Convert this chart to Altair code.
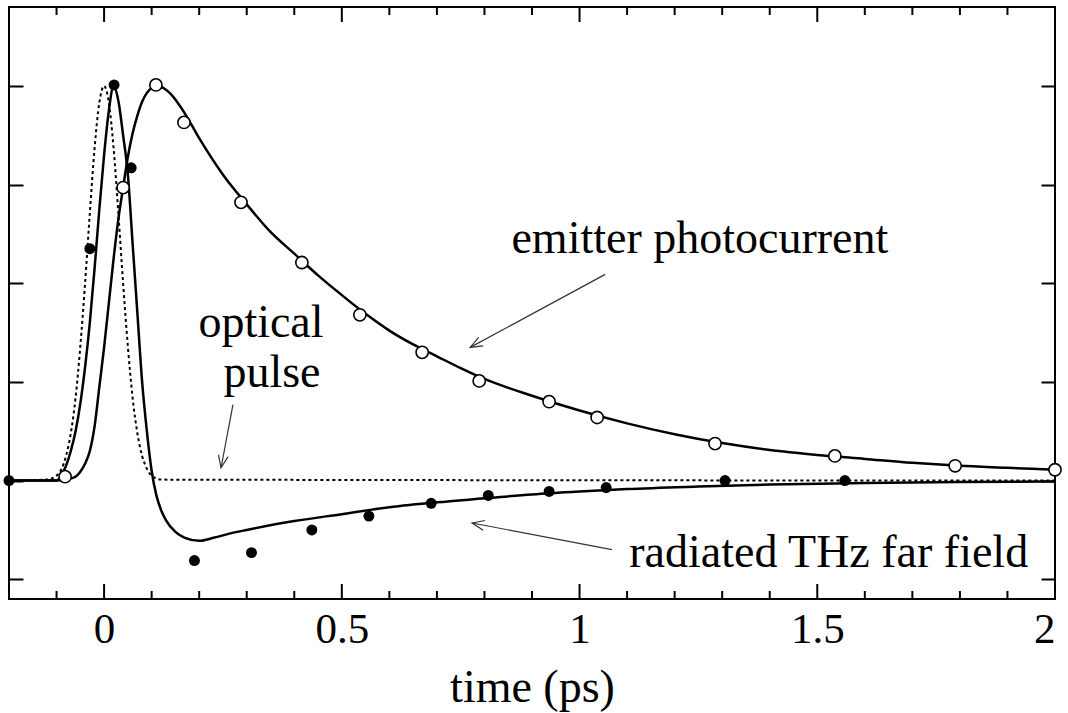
import math
import altair as alt
import pandas as pd

# ---------------- data ----------------
opt_t = [-0.2, -0.12, -0.1, -0.08, -0.07, -0.06, -0.05, -0.04, -0.03, -0.02, -0.01, 0.0,
         0.01, 0.02, 0.03, 0.04, 0.05, 0.06, 0.07, 0.08, 0.09, 0.1, 0.12, 2.0]
opt_v = [0.0, 0.01, 0.05, 0.25, 0.48, 0.84, 1.36, 2.0, 2.71, 3.37, 3.83, 4.0,
         3.83, 3.37, 2.71, 2.0, 1.36, 0.84, 0.48, 0.25, 0.12, 0.05, 0.01, 0.0]

pc_t = [-0.2, -0.1, -0.08, -0.06, -0.05, -0.04, -0.03, -0.02, -0.01, 0.0, 0.01, 0.02, 0.03,
        0.04, 0.05, 0.06, 0.07, 0.08, 0.09, 0.1, 0.11, 0.12, 0.14, 0.17, 0.2, 0.25, 0.3,
        0.35, 0.4, 0.45, 0.5, 0.55, 0.6, 0.65, 0.7, 0.75, 0.8, 0.9, 1.0, 1.1, 1.2, 1.3,
        1.4, 1.5, 1.6, 1.7, 1.8, 1.9, 2.0]
pc_v = [0.0, 0.0, 0.01, 0.04, 0.09, 0.17, 0.3, 0.55, 0.95, 1.35, 1.8, 2.25, 2.65,
        2.97, 3.28, 3.52, 3.7, 3.84, 3.93, 3.98, 4.0, 3.99, 3.92, 3.72, 3.47, 3.1, 2.8,
        2.52, 2.3, 2.08, 1.88, 1.69, 1.52, 1.38, 1.26, 1.14, 1.03, 0.86, 0.71, 0.58, 0.47, 0.38,
        0.31, 0.26, 0.22, 0.18, 0.15, 0.13, 0.11]

thz_t = [-0.2, -0.1, -0.09, -0.08, -0.07, -0.06, -0.05, -0.04, -0.03, -0.02, -0.01, 0.0,
         0.01, 0.02, 0.03, 0.04, 0.05, 0.06, 0.07, 0.08, 0.09, 0.1, 0.11, 0.12, 0.13,
         0.15, 0.17, 0.2, 0.23, 0.27, 0.3, 0.4, 0.5, 0.6, 0.7, 0.8, 0.9, 1.0, 1.1, 1.25,
         1.4, 1.6, 1.8, 2.0]
thz_v = [0.0, 0.0, 0.05, 0.15, 0.3, 0.5, 0.78, 1.15, 1.6, 2.15, 2.75, 3.3,
         3.75, 4.0, 3.85, 3.5, 3.1, 2.4, 1.7, 1.0, 0.5, 0.1, -0.15, -0.3, -0.4,
         -0.52, -0.58, -0.61, -0.58, -0.53, -0.5, -0.41, -0.34, -0.27, -0.22, -0.18, -0.14,
         -0.11, -0.085, -0.06, -0.04, -0.025, -0.015, -0.01]

op_t = [-0.082, 0.04, 0.109, 0.168, 0.288, 0.416, 0.538, 0.669, 0.789, 0.936, 1.037,
        1.285, 1.537, 1.79, 2.0]
op_v = [0.04, 2.97, 4.01, 3.63, 2.82, 2.21, 1.68, 1.30, 1.01, 0.80, 0.64,
        0.375, 0.25, 0.15, 0.11]

fp_t = [-0.2, -0.03, 0.021, 0.057, 0.19, 0.31, 0.437, 0.557, 0.688, 0.808, 0.936,
        1.056, 1.306, 1.558]
fp_v = [0.0, 2.35, 4.01, 3.17, -0.81, -0.73, -0.50, -0.36, -0.23, -0.15, -0.11,
        -0.07, 0.0, 0.0]

lab_text = ["emitter photocurrent", "optical", "pulse", "radiated THz far field"]
lab_x = [1.253, 0.330, 0.353, 1.524]
lab_y = [2.31, 1.46, 0.95, -0.88]

arr_x1 = [1.054, 0.271, 1.068]
arr_y1 = [2.09, 0.77, -0.70]
arr_x2 = [0.770, 0.246, 0.774]
arr_y2 = [1.35, 0.13, -0.43]

x_major = [0, 0.5, 1, 1.5, 2]
x_minor = [-0.1, 0.1, 0.2, 0.3, 0.4, 0.6, 0.7, 0.8, 0.9, 1.1, 1.2, 1.3, 1.4,
           1.6, 1.7, 1.8, 1.9]
y_ticks = [-1, 0, 1, 2, 3, 4]

# ---------------- chart ----------------
W, H = 1046, 592
X_DOM = [-0.2, 2.0]
Y_DOM = [-1.2, 4.8]
FONT = "Liberation Serif"
MAJ, MIN = 15, 8

xs = alt.Scale(domain=X_DOM, nice=False, zero=False)
ys = alt.Scale(domain=Y_DOM, nice=False, zero=False)


def tick_axis(orient, offset, values, size):
    return alt.Axis(orient=orient, offset=offset, values=values, labels=False,
                    ticks=True, tickSize=size, tickWidth=2, tickColor="black", tickOpacity=1,
                    domain=False, grid=False, title=None)


df_opt = pd.DataFrame({"t": opt_t, "v": opt_v})
df_pc = pd.DataFrame({"t": pc_t, "v": pc_v})
df_thz = pd.DataFrame({"t": thz_t, "v": thz_v})
df_op = pd.DataFrame({"t": op_t, "v": op_v})
df_fp = pd.DataFrame({"t": fp_t, "v": fp_v})
df_lab = pd.DataFrame({"t": lab_x, "v": lab_y, "txt": lab_text})
df_major = pd.DataFrame({"t": x_major})
df_minor = pd.DataFrame({"t": x_minor})

px_per_x = W / (X_DOM[1] - X_DOM[0])
px_per_y = H / (Y_DOM[1] - Y_DOM[0])
angles = []
for a, b, c, d in zip(arr_x1, arr_y1, arr_x2, arr_y2):
    dx = (c - a) * px_per_x
    dy = -(d - b) * px_per_y
    angles.append(math.degrees(math.atan2(dx, -dy)) % 360)
df_arr = pd.DataFrame({"x1": arr_x1, "y1": arr_y1, "x2": arr_x2, "y2": arr_y2, "ang": angles})

bottom_axis = alt.Axis(orient="bottom", values=x_major, ticks=False, domain=False, grid=False,
                       format="~g", labelFont=FONT, labelFontSize=43, labelColor="black",
                       labelPadding=9, title="time (ps)", titleFont=FONT, titleFontSize=46,
                       titleFontWeight="normal", titleColor="black", titlePadding=14)

pc_line = alt.Chart(df_pc).mark_line(color="black", strokeWidth=2.5, interpolate="monotone").encode(
    x=alt.X("t:Q", scale=xs, axis=bottom_axis),
    y=alt.Y("v:Q", scale=ys, axis=tick_axis("right", -W, y_ticks, 14)),
)

thz_line = alt.Chart(df_thz).mark_line(color="black", strokeWidth=2.5, interpolate="monotone").encode(
    x=alt.X("t:Q", scale=xs, axis=None),
    y=alt.Y("v:Q", scale=ys, axis=tick_axis("left", -W, y_ticks, 14)),
)

opt_line = alt.Chart(df_opt).mark_line(color="black", strokeWidth=2, strokeDash=[3, 3],
                                       interpolate="monotone").encode(
    x=alt.X("t:Q", scale=xs, axis=None),
    y=alt.Y("v:Q", scale=ys, axis=None),
)

open_pts = alt.Chart(df_op).mark_point(shape="circle", filled=True, fill="white", stroke="black",
                                       strokeWidth=1.6, size=150, opacity=1).encode(
    x=alt.X("t:Q", scale=xs, axis=None),
    y=alt.Y("v:Q", scale=ys, axis=None),
)

filled_pts = alt.Chart(df_fp).mark_point(shape="circle", filled=True, color="black",
                                         size=120, opacity=1).encode(
    x=alt.X("t:Q", scale=xs, axis=None),
    y=alt.Y("v:Q", scale=ys, axis=None),
)


def x_ticks(df, length, at_top):
    y0 = 0 if at_top else H
    y1 = length if at_top else H - length
    return alt.Chart(df).mark_rule(color="black", strokeWidth=2).encode(
        x=alt.X("t:Q", scale=xs, axis=None),
        y=alt.value(y0),
        y2=alt.value(y1),
    )


tick_layers = [x_ticks(df_major, MAJ, True), x_ticks(df_major, MAJ, False),
               x_ticks(df_minor, MIN, True), x_ticks(df_minor, MIN, False)]

labels = alt.Chart(df_lab).mark_text(font=FONT, fontSize=46, align="center",
                                     baseline="alphabetic", color="black").encode(
    x=alt.X("t:Q", scale=xs, axis=None),
    y=alt.Y("v:Q", scale=ys, axis=None),
    text="txt:N",
)

arrow_lines = alt.Chart(df_arr).mark_rule(color="#333333", strokeWidth=1.2).encode(
    x=alt.X("x1:Q", scale=xs, axis=None),
    y=alt.Y("y1:Q", scale=ys, axis=None),
    x2="x2:Q",
    y2="y2:Q",
)

arrow_heads = alt.Chart(df_arr).mark_point(shape="M -0.4 1 L 0 0 L 0.4 1", filled=False,
                                           stroke="#333333", strokeWidth=1.2, size=600,
                                           opacity=1).encode(
    x=alt.X("x2:Q", scale=xs, axis=None),
    y=alt.Y("y2:Q", scale=ys, axis=None),
    angle=alt.Angle("ang:Q", scale=None),
)

chart = alt.layer(
    opt_line, pc_line, thz_line, *tick_layers, arrow_lines, arrow_heads, labels,
    open_pts, filled_pts
).resolve_axis(x="independent", y="independent").properties(
    width=W, height=H,
    autosize=alt.AutoSizeParams(type="none"),
    padding={"left": 9, "top": 7, "right": 13, "bottom": 114},
).configure_view(stroke="black", strokeWidth=2).configure_axis(grid=False)

chart.save("out.html", embed_options={"renderer": "svg", "actions": False})
